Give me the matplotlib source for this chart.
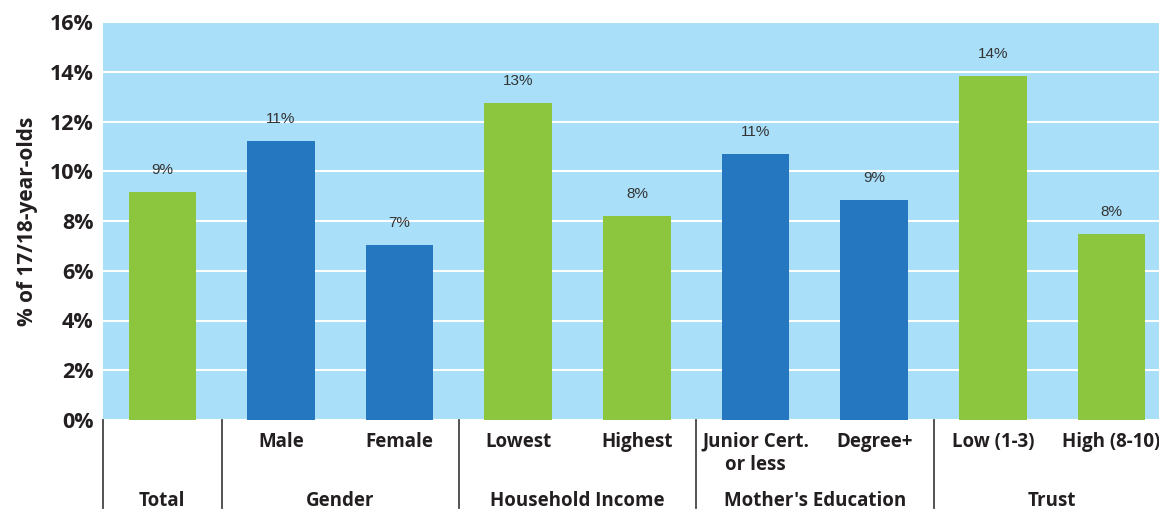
import matplotlib.pyplot as plt
import numpy as np

categories = ["", "Male", "Female", "Lowest", "Highest", "Junior Cert.\nor less", "Degree+", "Low (1-3)", "High (8-10)"]
values = [9.17, 11.22, 7.04, 12.73, 8.2, 10.69, 8.84, 13.83, 7.48]
value_labels = ["9%", "11%", "7%", "13%", "8%", "11%", "9%", "14%", "8%"]
bar_colors = ["green", "blue", "blue", "green", "green", "blue", "blue", "green", "green"]
groups = ["Total", "Gender", "Household Income", "Mother's Education", "Trust"]
group_spans = [(0, 0), (1, 2), (3, 4), (5, 6), (7, 8)]
y_ticks = [0, 2, 4, 6, 8, 10, 12, 14, 16]

palette = {"green": "#8cc63f", "blue": "#2577c0"}
text_col = "#231f20"

fig = plt.figure(figsize=(11.59, 5.13), dpi=100)
ax = fig.add_axes([103 / 1159, 93 / 513, 1 - 103 / 1159, 398 / 513])
ax.set_facecolor("#a9dff8")

x = np.arange(len(values))
ax.bar(x, values, width=0.57, color=[palette[c] for c in bar_colors], zorder=3)

for xi, v, lab in zip(x, values, value_labels):
    ax.text(xi, v + 0.88, lab, ha="center", va="center", fontsize=11,
            color="#333333", family="Liberation Sans", zorder=4)

ax.set_ylim(0, 16)
ax.set_xlim(-0.5, 8.4)
ax.set_yticks(y_ticks)
ax.set_yticklabels([f"{t}%" for t in y_ticks], fontsize=15.5, fontweight="bold",
                   color=text_col, family="Open Sans")
ax.tick_params(axis="y", length=0, pad=7)
ax.set_xticks([])
ax.grid(axis="y", color="white", linewidth=1.5, zorder=1)
for s in ax.spines.values():
    s.set_visible(False)

ax.set_ylabel("% of 17/18-year-olds", fontsize=15, fontweight="bold",
              color=text_col, family="Open Sans", labelpad=8)

# category labels and group labels under the axis
trans = ax.get_xaxis_transform()
for xi, cat in zip(x, categories):
    ax.text(xi, -0.03, cat, transform=trans, ha="center", va="top",
            fontsize=13.5, fontweight="bold", color=text_col,
            family="Open Sans", linespacing=1.2, clip_on=False)

for g, (a, b) in zip(groups, group_spans):
    ax.text((a + b) / 2, -0.203, g, transform=trans, ha="center", va="center",
            fontsize=13.5, fontweight="bold", color=text_col,
            family="Open Sans", clip_on=False)

seps = [-0.5] + [b + 0.5 for (a, b) in group_spans[:-1]]
for s in seps:
    ax.plot([s, s], [0, -0.22], transform=trans, color="#444444",
            linewidth=1.3, clip_on=False)

fig.savefig("out.png", dpi=100)
